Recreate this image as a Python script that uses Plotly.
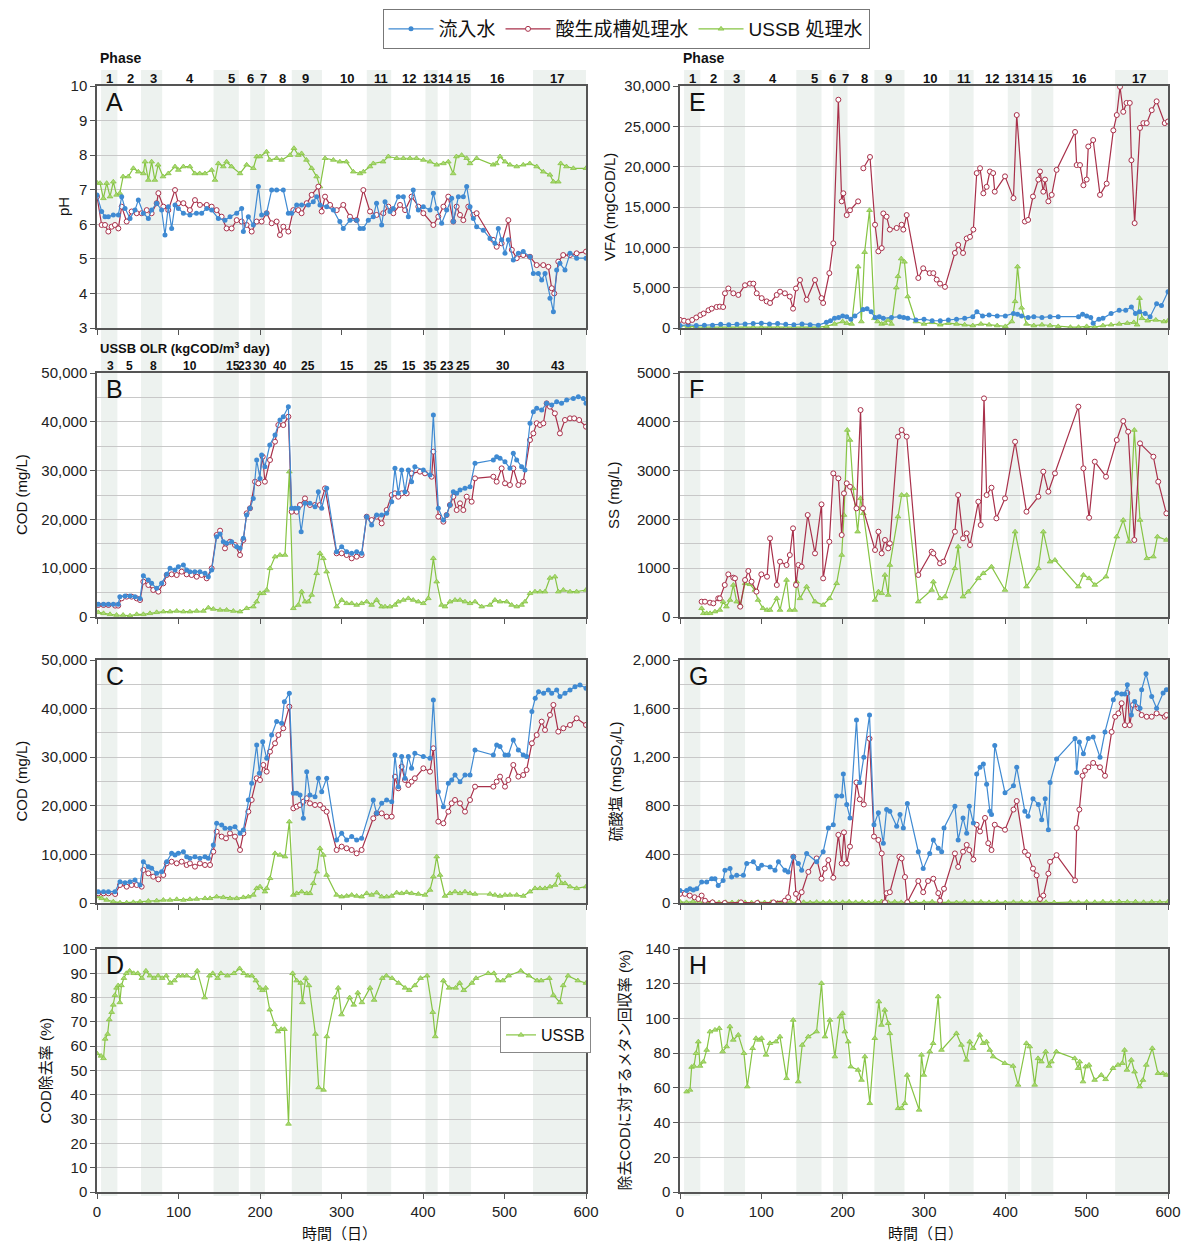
import plotly.graph_objects as go

# ---------------- data: (day, value) pairs ----------------
ph_inf = [(0,6.85),(5.7,6.37),(9.8,6.22),(13.9,6.22),(20,6.27),(26.2,6.27),(30.3,6.8),(34.4,6.46),(40.5,6.17),(46.6,6.41),
          (50.7,6.7),(56.9,6.32),(63,6.17),(67,6.41),(73.2,6.61),(79.3,6.41),(83.4,5.69),(87.5,6.51),(91.6,5.88),(95.7,6.56),
          (99.8,6.46),(106,6.32),(114,6.27),(122,6.32),(128.4,6.32),(134.6,6.46),(140.7,6.41),(148.9,6.17),(157,6.12),(163.2,6.22),
          (171.4,6.32),(177.5,6.46),(179.6,5.79),(185.7,6.22),(191.8,5.98),(198,7.09),(202,6.27),(208,6.32),(214.3,6.99),(220.4,6.99),
          (228.6,6.99),(234.8,6.32),(238.9,6.32),(245,6.56),(251,6.56),(259.3,6.56),(265.4,6.65),(269.5,6.8),(273.6,6.56),(281.8,6.51),
          (290,6.41),(298,6.08),(302.2,5.88),(310.4,6.12),(318.6,6.12),(322.7,5.88),(326.8,5.88),(332.9,6.12),(339,6.22),(343,6.61),
          (349.3,5.98),(353.4,6.65),(359.5,6.37),(363.6,6.46),(369.7,6.8),(375.9,6.8),(382,6.22),(388,6.99),(394.3,6.41),(400.4,6.51),
          (408.6,6.41),(412.7,6.9),(416.8,6.46),(422.9,6.03),(429,6.41),(435.2,6.75),(437.2,6.08),(443.4,6.8),(449.5,6.8),(453.6,7.09),
          (457.7,6.51),(461.8,6.17),(465.8,5.93),(474,5.83),(482.2,5.59),(488.3,5.45),(492.4,5.88),(496.5,5.55),(500.6,5.16),(504.7,5.55),
          (510.8,4.97),(517,5.16),(523,5.21),(531.3,5.06),(535.4,4.58),(541.5,4.58),(545.6,4.39),(549.7,4.58),(555.8,3.86),(560,3.47),
          (564,4.68),(568,4.87),(574.2,4.68),(580.4,5.16),(588.5,5.02),(600,5.02)]
ph_acid = [(0,6.8),(5.7,5.98),(9.8,5.98),(13.9,5.79),(18,5.93),(22,5.98),(26.2,5.88),(30.3,6.51),(36.4,6.08),(42.5,6.37),
           (48.7,6.32),(54.8,6.32),(61,6.41),(67,6.32),(73.2,6.61),(75.3,6.9),(81.4,6.51),(87.5,6.41),(95.7,6.99),(99.8,6.61),
           (106,6.61),(114,6.41),(120.2,6.7),(126.3,6.56),(134.6,6.56),(140.7,6.51),(146.8,6.41),(152.9,6.22),(159,5.88),(165.2,5.88),
           (171.4,6.12),(177.5,6.08),(183.6,5.98),(189.8,5.79),(195.9,6.08),(202,6.08),(208.2,6.32),(214.3,6.03),(220.4,6.08),(224.5,5.69),
           (228.6,5.93),(234.8,5.79),(240.9,6.41),(247,6.41),(251,6.32),(257.3,6.61),(263.4,6.85),(271.6,7.09),(275.7,6.37),(279.8,6.8),
           (286,6.56),(294.1,6.41),(302.2,6.56),(310.4,6.22),(318.6,6.12),(326.8,6.99),(335,6.37),(343,6.27),(351.3,6.32),(357.5,6.51),
           (363.6,6.32),(371.8,6.56),(378,6.41),(386,6.8),(394.3,6.51),(400.4,6.32),(412.7,5.98),(418.8,6.22),(425,6.51),(431,6.8),
           (437.2,6.08),(441.3,6.51),(445.4,6.27),(449.5,6.12),(455.6,6.51),(461.8,6.27),(465.8,6.32),(486,5.55),(490.4,5.35),(496.5,5.45),
           (504.7,6.12),(509,5.26),(515,5.02),(523,5.11),(531.3,5.06),(539.5,4.82),(547.6,4.82),(553.8,4.77),(557.9,4.15),(561,4.0),
           (566,4.92),(572,5.11),(580.4,5.11),(588.5,5.16),(600,5.21)]
ph_ussb = [(0,7.2),(3.7,7.19),(7.8,6.75),(11.9,7.19),(16,6.8),(20,7.23),(24,6.85),(28,6.9),(32,7.38),(38.4,7.38),(44.6,7.62),
           (50.7,7.52),(56.9,7.47),(58.9,7.81),(63,7.28),(67,7.81),(71,7.28),(75,7.72),(81,7.38),(87.5,7.47),(95.7,7.67),(99.8,7.57),
           (106,7.67),(114,7.67),(120,7.47),(126,7.47),(132.5,7.47),(140.7,7.57),(144.8,7.28),(148.9,7.76),(155,7.67),(159,7.81),
           (165,7.67),(175.5,7.47),(183.6,7.72),(191.8,7.62),(196,7.96),(200,7.96),(208,8.1),(212,7.86),(220.4,7.91),(226.6,7.86),
           (236.8,8.0),(241.7,8.2),(247,8.0),(251,8.05),(257,7.86),(263.4,7.62),(269.5,7.38),(273.6,7.09),(279.8,7.91),(290,7.86),
           (298,7.81),(306,7.81),(314.5,7.52),(322.7,7.47),(326.8,7.52),(335,7.67),(339,7.76),(351,7.81),(357.5,7.96),(367.7,7.91),
           (375.9,7.91),(384,7.91),(392,7.91),(400.4,7.86),(408.6,7.81),(416.8,7.72),(425,7.76),(431,7.81),(437,7.47),(441,7.96),
           (447.4,8.0),(453.6,7.91),(457.7,7.76),(465.8,7.91),(486,7.72),(490,7.76),(494.5,7.96),(500.6,7.81),(506.7,7.72),(515,7.67),
           (523,7.72),(531,7.76),(539.5,7.67),(547.6,7.52),(555.8,7.43),(560,7.23),(566,7.23),(569,7.76),(576,7.67),(584.5,7.62),(600,7.62)]

codb_inf = [(1.6,2600),(8,2600),(14,2600),(20,2600),(26,2600),(28,4170),(34.4,4300),(40.5,4300),(46.6,4170),(52.8,3800),
            (56.9,8470),(63,7580),(67,6900),(73.2,5870),(79.3,6900),(85.5,8740),(89.6,9970),(95.7,9630),(99.8,10310),(106,10650),
            (110,9630),(114,9290),(120,9290),(126.3,9290),(132.5,8940),(136.6,8260),(140.7,9630),(146.8,16460),(151,17000),(155,15430),
            (159,15090),(165.2,15430),(171.4,14410),(175.5,14070),(179.6,16120),(183.6,20900),(187.7,22270),(191.8,24300),(195.9,32170),
            (200,28400),(202,33190),(206,30800),(212,35240),(218.4,37290),(224.5,40370),(228.6,41050),(234.8,43100),(238.9,22270),
            (243,22270),(247,22270),(250.5,17480),(255.2,23290),(261.3,23290),(267.5,22600),(271.6,25680),(275.7,22270),(281.8,26360),
            (294,13390),(300.2,14410),(306.3,13390),(312.5,13050),(318.6,13390),(324.7,13050),(330.9,20560),(337,18850),(343.1,20900),
            (349.3,20900),(355.4,21240),(361.6,23630),(365.6,30460),(369.7,25340),(373.8,30120),(377.9,25680),(382,30120),(386,27730),
            (390,30800),(400.4,30120),(408.6,29100),(412.7,41390),(418.8,22270),(425,19870),(429,20900),(433,22950),(437.2,25680),
            (441.3,25340),(445.4,26020),(451.5,26360),(457.7,26700),(463.8,31490),(486.3,32170),(490.4,32850),(494.5,32510),
            (500.6,31830),(506.7,30460),(510.8,33530),(514.9,32170),(521,30800),(525.1,30120),(531.3,39690),(535.4,42080),(539.5,42760),
            (545.6,42420),(551.7,43780),(557.9,43440),(564,44120),(570,43780),(576.3,44460),(584.5,44800),(590.6,45150),(596.7,44800),(600,43780)]
codb_acid = [(1.6,2460),(8,2460),(14,2460),(22.3,2330),(26,2330),(30.3,3820),(36.4,4170),(42.5,4170),(48.7,3820),(52.8,3480),
             (56.9,7240),(63,6560),(69,5530),(75.3,5190),(81.4,6900),(85.5,8600),(91.6,8740),(97.8,8600),(103.9,9290),(110,8740),
             (116.1,8600),(122.3,8260),(128.4,8600),(134.6,7920),(140.7,9970),(146.8,16800),(151,17690),(157,14070),(163.2,15430),
             (169.3,14750),(175.5,12700),(179.6,15780),(183.6,21240),(187.7,22270),(193.9,27730),(198,27390),(203.3,32850),(206,27730),
             (212.3,32170),(218.4,35930),(222.5,39340),(228.6,39340),(234.8,41050),(238.9,21580),(245,21580),(249.1,22950),(255.2,24300),
             (261.3,22950),(267.5,22950),(273.6,22950),(279.8,26360),(294,13050),(300.2,13050),(306.3,12700),(312.5,12020),(318.6,12360),
             (324.7,12700),(330.9,20560),(337,19870),(343.1,20560),(349.3,19190),(355.4,21920),(361.6,25000),(365.6,25340),(369.7,24650),
             (373.8,25340),(380,25340),(386,29440),(396.3,29780),(402.4,29440),(410.6,28750),(412.7,33880),(418.8,20560),(425,19530),
             (429,20900),(433,22950),(437.2,24650),(441.3,21920),(445.4,23290),(449.5,21920),(453.6,24650),(459.7,23630),(463.8,28410),
             (486.3,28750),(490.4,27730),(496.5,30460),(500.6,27390),(506.7,27050),(510.8,30460),(517,27050),(523,27730),(531.3,36270),
             (535.4,37630),(539.5,39690),(543.6,39340),(547.7,39690),(551.7,43780),(555.8,43100),(561.8,41730),(568,37630),(574.2,40370),
             (580.4,40710),(585.5,40710),(591.6,40370),(600,39000)]
codb_ussb = [(1.6,950),(8,750),(16,550),(24,410),(32,410),(40.5,270),(48.7,550),(56.9,550),(65,750),(73.2,960),(81.4,1100),
             (89.6,1100),(97.8,1230),(106,1100),(114,1100),(122.3,1230),(130.5,1230),(136.6,1910),(142.7,1640),(151,1440),(159,1440),
             (167.3,1230),(175.5,1100),(183.6,1780),(191.8,2120),(195.9,3140),(200,4850),(204.1,4850),(208.2,5530),(212.3,9970),
             (218.4,12360),(224.5,12700),(230.7,12700),(236,29780),(240.9,1780),(247,2460),(251.1,5190),(255.2,3140),(259.3,3140),
             (263.4,4510),(269.5,8950),(273.6,13050),(277.7,12020),(281.8,9290),(294,2120),(300.2,3480),(306.3,2800),(312.5,2800),
             (318.6,2460),(324.7,2800),(330.9,3140),(337,2460),(343.1,3480),(349.3,2120),(353.4,2120),(359.5,2120),(365.6,2460),
             (369.7,3140),(375.9,3480),(382,3820),(388,3480),(394.3,3140),(400.4,2800),(406.5,3820),(412.7,12020),(416.8,7240),
             (422.9,2460),(427,2120),(433.1,3140),(439.3,3480),(445.4,3480),(451.5,3140),(457.7,2800),(463.8,3140),(472,2120),
             (482.2,2460),(488.3,3480),(494.5,3140),(502.7,3140),(508.8,2460),(515,2120),(521,2460),(525.1,3140),(531.3,4850),
             (537.4,5190),(543.6,5190),(549.7,5190),(555.8,8000),(561.9,8260),(566,5190),(572.2,5530),(580.4,5190),(588.5,5190),(600,5530)]

codc_inf = [(1.6,2330),(8,2330),(14,2330),(22,2330),(28.2,4390),(34.4,4190),(40.5,4390),(46.6,4730),(52.8,3700),(56.9,8500),
            (63,7480),(67,7130),(73.2,6100),(79.3,6450),(85.5,8500),(91.6,10220),(95.7,9880),(99.8,10220),(106,10560),(110,9540),
            (114,9190),(120.2,9540),(126.3,9190),(132.5,9540),(136.6,9190),(142.7,11940),(146.8,16400),(153,16060),(157,15370),
            (163.2,15370),(169.3,15710),(175.5,14340),(179.6,15030),(185.7,21200),(189.8,24630),(195.9,32520),(199.2,26690),
            (203.3,33200),(208.2,29770),(214.3,34570),(220.4,37320),(226.6,36980),(229.9,41430),(236,43150),(240.9,22570),
            (245,22570),(249.1,22230),(253.2,17420),(257.3,27030),(261.3,22230),(267.5,21880),(271.6,25660),(275.7,22910),
            (281.8,25660),(294,12970),(300.2,14340),(306.3,12970),(312.5,13660),(318.6,12970),(324.7,13310),(339,21200),(343.1,18450),
            (349.3,20510),(355.4,21200),(361.6,20850),(365.6,30460),(369.7,23940),(373.8,30120),(377.9,25660),(382,30120),(386,27710),
            (390,30800),(400.4,30120),(408.6,29770),(412.7,41780),(418.8,22910),(425,19830),(431.1,24630),(435.2,25320),(439.3,26340),
            (445.4,24970),(451.5,26340),(457.7,26340),(463.8,31490),(486.3,30460),(490.4,32520),(494.5,32180),(500.6,30460),(504.7,30460),
            (510.8,33540),(517,31490),(523,30460),(527.1,30120),(533.6,39380),(537.7,42120),(541.8,43490),(548,43150),(553.8,43840),
            (557.9,43150),(564,43840),(568,42470),(574.2,43150),(580.4,43840),(586.5,44520),(592.6,44860),(600,44180)]
codc_acid = [(1.6,1990),(8,1990),(14,1990),(22.3,1850),(28.2,3700),(36.4,3360),(42.5,3700),(48.7,3700),(54.8,3360),(56.9,6790),
             (63,6100),(69,5420),(75.3,4870),(81.4,5760),(85.5,8160),(91.6,8500),(97.8,8160),(103.9,8500),(110,7820),(114,8160),
             (120.2,7480),(126.3,8160),(132.5,7820),(138.7,7820),(142.7,10560),(146.8,14680),(153,13660),(158.3,13310),(163.2,14340),
             (169.3,13660),(175.5,10910),(179.6,14340),(185.7,18800),(189.8,21200),(195.9,25660),(200,25320),(204.1,28400),(208.2,27030),
             (212.3,31140),(218.4,32860),(222.5,34570),(228.6,35950),(236,40400),(240.9,19480),(245,19830),(249.1,20170),(253.2,20850),
             (257.3,21540),(261.3,20510),(267.5,20170),(273.6,20170),(277.7,19480),(281.8,18800),(294,10910),(300.2,11600),(306.3,11250),
             (312.5,10910),(318.6,10220),(324.7,10910),(339,17420),(343.1,18450),(349.3,18450),(355.4,17770),(361.6,17770),(365.6,26000),
             (369.7,23600),(373.8,28060),(377.9,25320),(382,24290),(386,24970),(390,25660),(400.4,27710),(408.6,27030),(412.7,31830),
             (418.8,16740),(425,16400),(431.1,18800),(435.2,20510),(439.3,21200),(445.4,20510),(451.5,18800),(457.7,21200),(463.8,23940),
             (486.3,23940),(490.4,24970),(494.5,26000),(500.6,23940),(504.7,25320),(510.8,28400),(517,26000),(523,26340),(527.1,27370),
             (533.6,32860),(539.5,34570),(545.6,37320),(549.7,35600),(555.8,38690),(560,40750),(566,35260),(572.2,35950),(580.4,36630),
             (588.5,38000),(600,36630)]
codc_ussb = [(1.6,1300),(5.7,960),(11.9,620),(20,270),(28.2,70),(36.4,70),(44.6,140),(52.8,270),(63,410),(73.2,480),(81.4,620),
             (89.6,620),(97.8,760),(106,620),(114,760),(122.3,820),(132.5,960),(138.7,960),(146.8,1300),(155,1160),(163.2,960),
             (171.4,960),(179.6,1160),(185.7,1300),(191.8,1650),(195.9,3020),(200,3360),(206.1,2330),(208.2,3020),(212.3,5080),
             (218.4,10220),(224.5,9880),(230.7,9540),(236,16740),(240.9,1650),(245,1990),(251.1,2330),(257.3,1990),(261.3,1990),
             (265.4,4050),(269.5,6450),(273.6,11250),(277.7,9880),(281.8,5760),(294,1650),(300.2,1300),(306.3,1440),(312.5,1650),
             (318.6,1440),(324.7,1300),(330.9,1990),(337,1650),(343.1,2130),(349.3,1300),(355.4,1300),(361.6,1440),(367.7,2130),
             (373.8,1990),(379.9,2200),(386,1990),(394.3,1850),(402.4,1650),(408.6,2680),(412.7,5420),(416.8,9540),(420.9,5760),
             (427,1440),(433.1,1990),(439.3,2330),(445.4,1990),(451.5,2330),(457.7,1990),(463.8,1850),(482.2,1850),(488.3,1650),
             (494.5,1440),(500.6,1650),(506.7,1650),(515,1650),(523,1440),(531.3,2330),(537.4,3020),(543.6,3020),(549.7,3020),
             (555.8,3360),(562,3700),(566,5760),(570.1,4050),(574.2,4050),(580.4,3360),(588.5,3020),(600,3360)]

removal_ussb = [(0,57),(5,56),(8,55),(10,63),(13,65),(15,71),(18,74),(20,77),(22,81),(24,84),(26,85),(28,78),(30,85),(33,88),
                (36,90),(40,91),(45,90),(50,90),(55,88),(60,91),(65,89),(70,88),(75,89),(80,88),(85,89),(90,86),(95,87),(100,89),
                (105,89),(110,89),(118,88),(123,91),(132,80),(138,89),(142,90),(148,88),(152,90),(160,89),(168,90),(175,92),(180,90),
                (185,89),(190,89),(195,87),(200,84),(203,83),(207,84),(212,75),(218,69),(222,66),(226,67),(230,67),(235,28),(240,90),
                (245,87),(250,86),(252,78),(256,88),(260,85),(268,65),(272,43),(278,42),(282,64),(292,80),(296,84),(300,73),(310,80),
                (315,77),(320,82),(325,78),(335,84),(340,79),(350,88),(355,89),(362,88),(370,86),(378,84),(383,83),(390,85),(397,88),
                (405,89),(412,74),(415,64),(425,87),(432,84),(440,84),(445,86),(450,83),(460,86),(465,88),(480,90),(487,90),(492,87),
                (498,87),(505,89),(520,91),(530,89),(540,87),(545,87),(555,88),(560,81),(568,78),(572,85),(578,89),(590,87),(600,86)]

vfa_inf = [(0,300),(10,400),(20,300),(30,350),(40,350),(50,450),(60,400),(70,450),(80,500),(90,550),(100,600),(110,500),
           (120,550),(130,450),(140,400),(150,500),(160,400),(170,350),(180,700),(185,900),(190,1200),(195,1300),(200,1500),
           (205,1400),(210,1100),(215,1500),(225,2300),(230,2400),(235,2000),(240,1300),(245,1400),(250,1200),(260,1300),
           (270,1400),(275,1300),(280,1200),(290,1000),(300,1100),(310,900),(320,900),(330,1000),(340,1100),(350,1200),(360,1400),
           (365,2000),(372,1500),(380,1600),(390,1500),(400,1500),(410,1800),(415,1700),(420,1500),(428,1300),(435,1400),(445,1300),
           (455,1400),(465,1400),(490,1400),(495,1700),(500,1500),(505,1300),(508,600),(515,1100),(520,1200),(530,1800),(540,2200),
           (548,2200),(555,2600),(560,1800),(565,2000),(572,1800),(578,1400),(586,3000),(592,2800),(600,4500)]
vfa_acid = [(0,1000),(5,900),(10,800),(15,1000),(20,1300),(25,1600),(29,1800),(35,2200),(39,2400),(45,2600),(49,2650),(53,2600),
            (55.3,4300),(59.4,4900),(65.6,4300),(71.7,4100),(79.9,5300),(86,5500),(90.2,5500),(94.3,4300),(100.4,3700),(106.6,3300),
            (110.7,3100),(118.9,4100),(123,4500),(129,4300),(135,3900),(139,2400),(142.6,4900),(147.5,5950),(155.7,3500),(166,5950),
            (174,3700),(176,3100),(183.6,6800),(188.5,10500),(194.7,28300),(198.8,15700),(200.8,16700),(205,14000),(209,14600),
            (219,15700),(220,None),(225.4,19800),(233.6,21200),(239.8,12800),(243.9,9500),(248,9900),(250,14200),(254,13800),
            (258,12200),(266.4,12400),(272.5,12800),(274.6,12200),(278.7,14000),(293,6200),(299,7400),(307,6800),(311.5,6800),
            (315.6,6000),(319.7,5500),(325.8,5100),(338,9300),(342,10300),(348,9300),(352.5,11100),(356.6,11300),(360.7,12200),
            (364.8,19200),(368.9,19800),(373,16700),(377,17500),(381,19400),(385,19200),(387,16900),(399.6,18800),(410,16100),
            (414,26400),(424,13200),(428,13400),(434,16300),(440.6,18400),(442.6,19400),(446.7,16900),(448.8,18400),(452.9,15700),
            (457,16500),(463,19600),(485.7,24300),(487.7,20200),(491.8,20200),(496,17700),(500,18400),(502,22500),(508,23300),
            (516.4,16500),(524.6,17900),(532.8,24500),(537,26400),(541,29900),(545,26800),(549,27900),(553,27900),(555,20800),
            (559,13000),(565.6,24800),(569.7,25400),(573.8,25400),(580,27000),(586,28100),(596,25400),(600,25600)]
vfa_ussb = [(0,300),(10,200),(20,150),(30,100),(40,100),(50,80),(60,100),(70,60),(80,80),(90,100),(100,80),(110,100),(120,60),
            (130,80),(140,100),(150,60),(160,80),(170,100),(180,200),(190,500),(200,800),(205,600),(211,500),(219,7600),(223,800),
            (227,9400),(233,14600),(239,1200),(243,800),(248,500),(252,600),(256,1000),(260,500),(266,5000),(268,6400),(272,8600),
            (276,8200),(280,3900),(290,800),(300,500),(310,700),(320,400),(330,600),(340,500),(350,400),(360,300),(370,500),(380,400),
            (390,300),(400,200),(408,800),(412,3300),(415,7600),(420,2500),(426,500),(435,300),(445,400),(455,300),(465,200),(480,100),
            (490,100),(500,200),(510,100),(520,300),(530,400),(540,500),(550,600),(558,700),(562,400),(565,3700),(568,1200),(575,900),
            (585,1000),(595,800),(600,900)]

ss_acid = [(26.6,314),(30.7,314),(36.9,294),(41,280),(47,382),(49,382),(55,656),(59.4,874),(65.6,806),(67.6,792),(74,212),
           (80,758),(84,943),(88,724),(94,519),(100,874),(107,826),(110.7,1612),(119,656),(123,1134),(131,1065),(135,1270),
           (139,1817),(142.6,656),(145.5,1065),(149.6,1031),(157,2090),(166,1304),(174,2308),(176,792),(183.6,1543),(188.5,2944),
           (194.7,2841),(198.8,1680),(201.6,2534),(205,2739),(209,2670),(217,2227),(222,4241),(225,2227),(239.8,1373),(244,1748),
           (248,1304),(252,1578),(256,1407),(258,1509),(268,3695),(272.5,3832),(278.7,3695),(293,861),(309.4,1339),(311.5,1304),
           (319.7,1100),(323.8,1134),(338,1748),(342,2500),(348,1612),(352.5,1714),(356.6,1475),(366.8,2363),(369.7,1885),
           (373.8,4480),(377,2500),(383,2650),(389,2022),(399.6,2431),(412,3592),(426,2158),(440.6,2466),(446.7,2978),(452.9,2568),
           (461,2944),(489.8,4310),(496,3046),(503,2035),(510,3183),(523.8,2875),(537,3627),(545,4016),(551,3797),(558.6,1578),
           (565.6,3558),(582,3285),(588,2773),(598,2124)]
ss_ussb = [(26.6,178),(28.7,75),(32.8,75),(37,75),(43,110),(49,143),(53,314),(57,212),(61.5,348),(65.6,656),(69.7,314),
           (74,246),(80,690),(86,670),(92,553),(96,348),(102,178),(107,143),(110.7,143),(119,382),(123,143),(131,758),(135,143),
           (141,143),(143.4,724),(147.5,382),(155.7,622),(166,314),(176,246),(184,382),(192.6,690),(198.8,1270),(201.6,2090),
           (205.7,3832),(209,3627),(213,2636),(218.4,1748),(222,2431),(225.4,2124),(239.8,348),(244,519),(248,485),(252,861),
           (256,451),(258,1065),(268,2056),(272.5,2500),(278.7,2500),(293,314),(309.4,553),(311.5,724),(319.7,382),(325.8,417),
           (338,997),(342,1441),(348,417),(354.5,519),(366.8,792),(373,895),(383,1031),(399.6,553),(412,1748),(426,622),(440.6,997),
           (446.7,1748),(455,1134),(461,1168),(489.8,622),(496,861),(503,792),(510,656),(523.8,826),(537,1646),(545,1987),(552,1543),
           (558.6,3832),(565.6,1987),(574,1202),(582,1236),(587,1646),(598,1578)]

so4_inf = [(0,103),(8.2,103),(12.3,117),(16.4,108),(20.5,117),(26.6,172),(32.8,172),(39,200),(43,200),(47,144),(53,186),
           (55.3,270),(61.5,283),(63.5,214),(69.7,228),(77.9,228),(82,325),(90.2,339),(96.3,283),(100.4,311),(110.7,297),
           (116.8,270),(121,339),(129,270),(133,256),(139.3,381),(145.5,325),(149.6,270),(155.7,408),(168,339),(176,422),(182.4,617),
           (188.5,644),(192.6,881),(198.8,881),(200.8,1061),(205,811),(209,700),(217,1506),(221,992),(226,1200),(233,1547),
           (238.5,644),(243.9,742),(250,492),(254,769),(258,755),(266.4,631),(270.5,728),(274.6,617),(279.5,819),(293,422),(299,283),
           (307,408),(311.5,519),(317.6,450),(321.7,422),(324.6,617),(338,797),(342,519),(348,700),(352.5,575),(355.7,797),
           (360.7,658),(364.8,1061),(368.9,1117),(373,1144),(377,978),(381,755),(383,728),(387,1297),(399.6,908),(410,964),
           (414,1117),(424,755),(428,714),(434,858),(440.6,811),(444.7,686),(449,858),(452.9,603),(455,992),(463,1186),(485.7,1353),
           (487.7,1075),(491,1325),(496,1228),(502,1353),(508,1367),(516.4,1200),(522.5,1408),(532.8,1672),(537,1728),(543,1720),
           (547,1720),(550,1797),(555,1547),(559,1658),(565.6,1603),(567.6,1756),(573,1886),(580,1700),(586,1603),(594,1728),(598,1756)]
so4_acid = [(0,75),(6,75),(12,61),(18,47),(22.5,33),(26.6,61),(30.7,19),(40,5),(55,0),(75,5),(95,0),(115,5),(129,19),(133,47),
            (139.3,381),(142.6,75),(145.5,6),(149.6,89),(157.8,256),(168,367),(174,200),(178,283),(182.4,353),(188.5,208),(194.7,561),
            (198.8,325),(201.6,581),(205,325),(209,464),(217,992),(221,853),(226,811),(233,1353),(238.5,547),(243.9,519),(248,408),
            (252,6),(254,81),(258,89),(269.7,381),(272.5,367),(276.6,214),(279.5,6),(293,181),(299,89),(305,181),(311.5,200),
            (317.6,81),(319.7,19),(324.6,117),(338,408),(342,297),(348,422),(352.5,478),(355.7,436),(360.7,358),(364.8,644),
            (368.9,589),(375,700),(379,492),(383,436),(387,644),(399.6,603),(410,769),(414,839),(424,422),(428,394),(434,283),
            (438.5,228),(442.6,33),(446.7,61),(452.9,242),(455,339),(463,394),(485.7,186),(487.7,617),(491,769),(495,1047),(498,1089),
            (502,1117),(508,1153),(516.4,1117),(522.5,1047),(530.7,1408),(535,1533),(539,1561),(543,1644),(547,1464),(550,1728),
            (553,1464),(557,1630),(563.5,1603),(567.6,1547),(573.8,1533),(580,1533),(586,1561),(596,1533),(598,1547)]
so4_ussb = [(0,10),(8,5),(16,12),(24,6),(32,4),(40,8),(48,3),(56,6),(64,4),(72,8),(80,5),(88,3),(96,7),(104,4),(112,6),
            (120,3),(128,5),(136,8),(144,4),(152,6),(160,3),(168,7),(176,5),(184,9),(192,4),(200,6),(208,10),(216,5),(224,8),
            (232,4),(240,7),(248,12),(256,6),(264,9),(272,5),(280,8),(290,4),(300,6),(310,10),(320,5),(330,7),(340,4),(350,8),
            (360,6),(370,9),(380,5),(390,7),(400,4),(410,6),(420,8),(430,5),(440,9),(450,6),(460,4),(480,7),(490,5),(500,8),
            (510,6),(520,10),(530,7),(540,12),(550,8),(560,10),(570,6),(580,9),(590,7),(600,10)]

ch4_recovery = [(8.2,57.8),(12.3,58.8),(14.3,72),(17.2,72.6),(19.7,80),(22.5,86.6),(24.6,72.6),(28.7,75),(32.8,81.8),(36.9,92.4),
                (43,93.4),(48.3,94.3),(52.4,80.9),(57.3,83.8),(61.4,95.3),(65.5,87.6),(71.7,90.5),(78.6,80),(82.7,60.7),(89.3,82.8),
                (93.4,88.6),(97.5,87.6),(100.3,88.6),(105.7,79),(110.6,85.7),(118,86.6),(122.9,89.5),(131,65.5),(139.2,99.1),
                (145.4,63.6),(150.3,84.7),(157.7,89.5),(167.9,92.4),(174,120.3),(178.2,89.5),(184.3,99.1),(190.4,78),(196.6,101),
                (199.8,103),(202.7,92.4),(206.8,86.6),(210,72.2),(219,70.3),(223.2,64.5),(227.3,78),(233.4,51.1),(239.5,88.6),
                (244.5,109.7),(247.7,96.2),(251.8,104.9),(256,97.2),(258,91.4),(268.2,48.2),(272.3,48.2),(276.4,51.1),(279.3,67.4),
                (294,47.3),(296.9,79),(299.8,67.4),(307.1,80.9),(311.2,85.7),(317.4,112.6),(321.5,81.8),(339.9,91.4),(346,84.7),
                (352.2,76.1),(356.3,86.6),(360.4,82.8),(368.6,90.5),(372.7,85.7),(376.8,86.6),(380.9,81.8),(385,78),(399.3,74.2),
                (409.5,72.6),(415.7,61.7),(425.9,85.7),(430,83.8),(436.1,61.7),(440.2,77),(444.3,75.1),(449.6,80.9),(453.7,72.6),
                (456.6,75.1),(462.7,80.9),(485.3,77),(489.4,71.3),(491.4,75.1),(495.5,63.6),(498.8,72.2),(502.9,73.2),(509.8,64.5),
                (518,67.4),(523.3,64.9),(532.3,71.3),(538.5,73.2),(543.8,74.2),(546.6,81.8),(549.5,70.3),(554.9,76.1),(558.9,69.3),
                (565.1,60.7),(569.2,64.5),(573.3,73.2),(580.7,82.8),(587.7,68.4),(593.8,68.4),(597.9,67.4)]

# phase bands (shaded) and header labels
phase_bands = [(5, 25), (54, 80), (143, 174), (188, 206), (239, 276), (331, 361), (403, 418), (432, 459), (535, 600)]
phase_labels = ["1", "2", "3", "4", "5", "6", "7", "8", "9", "10", "11", "12", "13", "14", "15", "16", "17"]
phase_pos = [15, 41, 69, 114, 165, 188, 204, 227, 256, 307, 349, 383, 408, 427, 449, 491, 564]
olr_labels = ["3", "5", "8", "10", "15", "23", "30", "40", "25", "15", "25", "15", "35", "23", "25", "30", "43"]
olr_pos = [16, 40, 69, 114, 167, 182, 200, 225, 259, 307, 349, 383, 408, 429, 449, 498, 566]
day_ticks = [0, 100, 200, 300, 400, 500, 600]

# ---------------- styling ----------------
W, H = 1188, 1245
BLUE = "#3f8ad2"
RED = "#a8304a"
GREEN = "#86c443"
GREEN_FILL = "#a9d873"
LATIN = "Liberation Sans, Arial, sans-serif"
JP = "Liberation Sans, Noto Sans CJK JP, sans-serif"

def px_x(p):
    return p / W

def px_y(p):
    return 1 - p / H

col_dom = [[px_x(97), px_x(586)], [px_x(680), px_x(1168)]]
row_dom = [[px_y(328), px_y(86)], [px_y(617), px_y(373)], [px_y(903), px_y(660)], [px_y(1192), px_y(949)]]

fig = go.Figure()

STYLE = {
    "inf": dict(mode="lines+markers", line=dict(color=BLUE, width=1.2),
                marker=dict(symbol="circle", size=5, color=BLUE, line=dict(width=0)), name="流入水"),
    "acid": dict(mode="lines+markers", line=dict(color=RED, width=1.2),
                 marker=dict(symbol="circle", size=5, color="white", line=dict(color=RED, width=1)), name="酸生成槽処理水"),
    "ussb": dict(mode="lines+markers", line=dict(color=GREEN, width=1.2),
                 marker=dict(symbol="triangle-up", size=5, color=GREEN_FILL, line=dict(color=GREEN, width=0.8)), name="USSB 処理水"),
}

def add(series, kind, ax, show=False, **extra):
    xs = [p[0] for p in series]
    ys = [p[1] for p in series]
    kw = dict(STYLE[kind])
    kw.update(extra)
    fig.add_trace(go.Scatter(x=xs, y=ys, xaxis="x" + ax, yaxis="y" + ax,
                             showlegend=show, connectgaps=False, **kw))

# panel -> axis id
add(ph_ussb, "ussb", "1")
add(ph_acid, "acid", "1")
add(ph_inf, "inf", "1")
add(codb_ussb, "ussb", "2")
add(codb_acid, "acid", "2")
add(codb_inf, "inf", "2")
add(codc_ussb, "ussb", "3")
add(codc_acid, "acid", "3")
add(codc_inf, "inf", "3")
add(removal_ussb, "ussb", "4", show=True, name="USSB", legend="legend2")
add(vfa_ussb, "ussb", "5")
add(vfa_inf, "inf", "5")
add(vfa_acid, "acid", "5")
add(ss_ussb, "ussb", "6")
add(ss_acid, "acid", "6")
add(so4_ussb, "ussb", "7")
add(so4_acid, "acid", "7")
add(so4_inf, "inf", "7")
add(ch4_recovery, "ussb", "8")

# legend-only entries for the shared top legend
for kind in ["inf", "acid", "ussb"]:
    kw = dict(STYLE[kind])
    fig.add_trace(go.Scatter(x=[None], y=[None], xaxis="x", yaxis="y", showlegend=True, legend="legend", **kw))

AX_LINE = "#555555"
GRID = "#c8c8c8"
TICKFONT = dict(family=LATIN, size=15, color="#222")

y_specs = {
    "1": dict(range=[3, 10], tickvals=[3, 4, 5, 6, 7, 8, 9, 10]),
    "2": dict(range=[0, 50000], tickvals=[0, 10000, 20000, 30000, 40000, 50000], tickformat=",d",
              minor=dict(dtick=5000, showgrid=True, gridcolor=GRID, ticks="")),
    "3": dict(range=[0, 50000], tickvals=[0, 10000, 20000, 30000, 40000, 50000], tickformat=",d",
              minor=dict(dtick=5000, showgrid=True, gridcolor=GRID, ticks="")),
    "4": dict(range=[0, 100], tickvals=list(range(0, 101, 10))),
    "5": dict(range=[0, 30000], tickvals=[0, 5000, 10000, 15000, 20000, 25000, 30000], tickformat=",d"),
    "6": dict(range=[0, 5000], tickvals=[0, 1000, 2000, 3000, 4000, 5000], tickformat="d",
              minor=dict(dtick=500, showgrid=True, gridcolor=GRID, ticks="")),
    "7": dict(range=[0, 2000], tickvals=[0, 400, 800, 1200, 1600, 2000], tickformat=",d",
              minor=dict(dtick=200, showgrid=True, gridcolor=GRID, ticks="")),
    "8": dict(range=[0, 140], tickvals=list(range(0, 141, 20))),
}

layout = {}
for i in range(8):
    ax = str(i + 1)
    col = 0 if i < 4 else 1
    row = i % 4
    suffix = "" if ax == "1" else ax
    layout["xaxis" + suffix] = dict(domain=col_dom[col], anchor="y" + suffix, range=[0, 600], tickvals=day_ticks,
                                    showticklabels=(row == 3), showgrid=False, zeroline=False, automargin=False,
                                    showline=True, linecolor=AX_LINE, linewidth=1.5, mirror=True,
                                    ticks="outside", ticklen=5, tickcolor=AX_LINE, tickfont=TICKFONT)
    ys = dict(domain=row_dom[row], anchor="x" + suffix, showgrid=True, gridcolor=GRID, gridwidth=1,
              zeroline=False, automargin=False, showline=True, linecolor=AX_LINE, linewidth=1.5, mirror=True,
              ticks="outside", ticklen=5, tickcolor=AX_LINE, tickfont=TICKFONT)
    ys.update(y_specs[ax])
    layout["yaxis" + suffix] = ys

shapes = []
for ref in ["x", "x5"]:
    for a, b in phase_bands:
        shapes.append(dict(type="rect", xref=ref, yref="paper", x0=a, x1=b,
                           y0=px_y(1196), y1=px_y(70), fillcolor="#edf2ef",
                           line=dict(width=0), layer="below"))

annotations = []
# panel letters
for i, letter in enumerate("ABCDEFGH"):
    ax = "x" if i == 0 else "x" + str(i + 1)
    ay = "y" if i == 0 else "y" + str(i + 1)
    annotations.append(dict(text=letter, xref=ax + " domain", yref=ay + " domain", x=0.014, y=1.0,
                            xanchor="left", yanchor="top", showarrow=False,
                            font=dict(family=LATIN, size=25, color="#111")))

# phase headers above A and E
for ref in ["x", "x5"]:
    annotations.append(dict(text="<b>Phase</b>", xref=ref, yref="paper", x=1, y=px_y(58),
                            xanchor="left", yanchor="middle", showarrow=False,
                            font=dict(family=LATIN, size=14, color="#111")))
    for lab, pos in zip(phase_labels, phase_pos):
        annotations.append(dict(text="<b>%s</b>" % lab, xref=ref, yref="paper", x=pos, y=px_y(78),
                                xanchor="center", yanchor="middle", showarrow=False,
                                font=dict(family=LATIN, size=13, color="#111")))

# organic loading rate header above B
annotations.append(dict(text="<b>USSB OLR (kgCOD/m<sup>3</sup> day)</b>", xref="x2", yref="paper", x=1,
                        y=px_y(348), xanchor="left", yanchor="middle", showarrow=False,
                        font=dict(family=LATIN, size=13, color="#111")))
for lab, pos in zip(olr_labels, olr_pos):
    annotations.append(dict(text="<b>%s</b>" % lab, xref="x2", yref="paper", x=pos, y=px_y(366),
                            xanchor="center", yanchor="middle", showarrow=False,
                            font=dict(family=LATIN, size=12, color="#111")))

# y-axis titles
ytitles = [
    ("pH", 63, (86 + 328) / 2),
    ("COD (mg/L)", 21, (373 + 617) / 2),
    ("COD (mg/L)", 21, (660 + 903) / 2),
    ("COD除去率 (%)", 45, (949 + 1192) / 2),
    ("VFA (mgCOD/L)", 609, (86 + 328) / 2),
    ("SS (mg/L)", 613, (373 + 617) / 2),
    ("硫酸塩 (mgSO<sub>4</sub>/L)", 616, (660 + 903) / 2),
    ("除去CODに対するメタン回収率 (%)", 624, (949 + 1192) / 2),
]
for text, xp, yp in ytitles:
    annotations.append(dict(text=text, xref="paper", yref="paper", x=px_x(xp), y=px_y(yp),
                            xanchor="center", yanchor="middle", textangle=-90, showarrow=False,
                            font=dict(family=JP, size=15, color="#111")))

# x-axis titles
for xp in [340, 925]:
    annotations.append(dict(text="時間（日）", xref="paper", yref="paper", x=px_x(xp), y=px_y(1233),
                            xanchor="center", yanchor="middle", showarrow=False,
                            font=dict(family=JP, size=15, color="#111")))

fig.update_layout(
    width=W, height=H,
    margin=dict(l=0, r=0, t=0, b=0, autoexpand=False),
    paper_bgcolor="white",
    plot_bgcolor="rgba(0,0,0,0)",
    font=dict(family=JP, size=15, color="#111"),
    shapes=shapes,
    annotations=annotations,
    legend=dict(orientation="h", x=px_x(626), xanchor="center", y=px_y(9), yanchor="top",
                bordercolor="#777", borderwidth=1, bgcolor="white",
                font=dict(family=JP, size=19, color="#111"), itemwidth=45, tracegroupgap=0),
    legend2=dict(x=px_x(500), xanchor="left", y=px_y(1017), yanchor="top",
                 bordercolor="#888", borderwidth=1, bgcolor="white",
                 font=dict(family=LATIN, size=16, color="#111"), itemwidth=30),
    **layout,
)

fig.write_html("out.html")
